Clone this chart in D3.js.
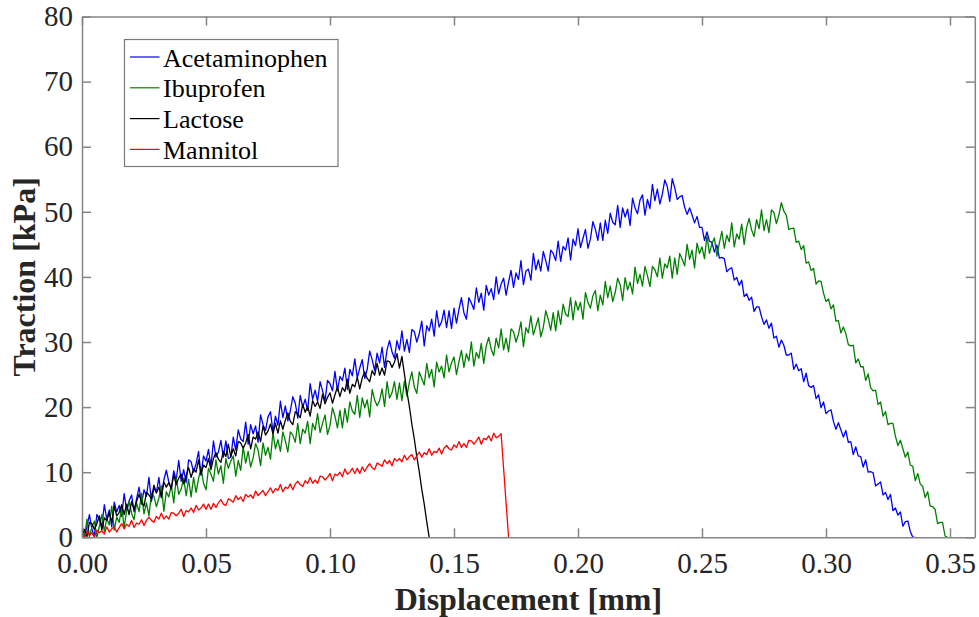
<!DOCTYPE html>
<html>
<head>
<meta charset="utf-8">
<script src="https://cdn.jsdelivr.net/npm/d3@7"></script>
<style>
body { margin: 0; background: #fff; }
svg { display: block; font-family: "Liberation Serif", serif; }
.axis path, .axis line { stroke: #858585; stroke-width: 1.5; }
.axis text { fill: #262626; font-size: 29px; font-family: "Liberation Serif", serif !important; }
.axis-label { fill: #262626; font-size: 32px; font-weight: bold; text-anchor: middle; }
.legend-text { fill: #000; font-size: 26px; }
</style>
</head>
<body>
<svg width="979" height="617"></svg>
<script>
var step = 0.001;

var seriesNames = ['Acetaminophen', 'Ibuprofen', 'Lactose', 'Mannitol'];
var seriesColors = ['#0000ff', '#008000', '#000000', '#ff0000'];

var acetaminophen = [
    1.9, 0.0, 1.7, 3.5, 1.2, 0.2, 3.5, 2.7, 1.7, 5.0,
    2.8, 4.2, 1.6, 5.4, 3.9, 4.9, 3.2, 6.7, 4.1, 5.6,
    6.5, 3.9, 5.9, 7.7, 5.1, 7.3, 6.3, 9.2, 5.5, 7.6,
    6.9, 9.2, 6.1, 8.8, 10.3, 8.5, 7.5, 10.2, 8.8, 11.8,
    8.6, 10.4, 8.4, 11.9, 11.6, 10.0, 11.3, 13.2, 9.5, 12.5,
    11.7, 13.5, 10.9, 14.8, 12.3, 13.1, 14.9, 12.3, 14.8, 12.1,
    12.3, 15.4, 13.4, 16.5, 15.1, 14.7, 17.7, 14.3, 17.3, 15.9,
    17.1, 14.6, 18.8, 17.3, 16.4, 18.5, 19.3, 16.2, 18.6, 17.2,
    20.9, 18.4, 20.2, 17.9, 19.4, 21.6, 20.6, 18.3, 21.8, 20.0,
    21.2, 19.5, 23.6, 21.2, 22.6, 20.9, 23.9, 22.5, 21.0, 24.1,
    23.6, 22.5, 25.5, 22.5, 24.7, 24.1, 26.0, 22.7, 25.8, 24.8,
    27.4, 24.5, 26.0, 27.3, 24.4, 25.8, 28.6, 27.3, 25.6, 28.3,
    26.8, 29.2, 26.1, 28.8, 30.2, 28.5, 27.5, 30.2, 28.8, 31.7,
    28.6, 30.4, 28.4, 31.9, 31.6, 30.0, 31.3, 33.2, 29.4, 32.5,
    31.7, 33.5, 30.9, 34.8, 32.3, 33.1, 34.9, 32.2, 34.8, 32.1,
    35.2, 32.9, 35.0, 36.8, 34.5, 33.5, 36.8, 36.0, 35.0, 38.3,
    36.1, 37.5, 34.9, 38.7, 37.2, 38.2, 36.5, 40.0, 37.4, 38.9,
    39.8, 37.2, 39.2, 41.0, 38.4, 40.6, 39.6, 42.5, 38.8, 40.9,
    41.2, 39.5, 43.6, 41.1, 42.6, 40.9, 43.9, 42.5, 40.9, 44.1,
    43.6, 42.5, 45.5, 42.4, 44.7, 44.1, 46.0, 42.6, 45.8, 44.8,
    47.4, 44.5, 45.9, 47.3, 44.4, 45.8, 48.5, 47.3, 45.6, 48.3,
    45.6, 48.7, 46.7, 49.8, 48.4, 48.0, 51.0, 47.6, 50.6, 49.2,
    50.4, 47.9, 52.1, 50.6, 49.7, 51.8, 52.6, 49.5, 51.9, 50.5,
    54.2, 51.7, 53.5, 51.2, 52.7, 54.9, 53.9, 51.6, 55.1,
    53.7, 51.9, 52.3, 52.5, 50.7, 49.6, 50.6, 49.5, 48.3, 49.3,
    47.6, 47.6, 45.6, 46.9, 45.5, 45.3, 43.8, 44.9, 42.9, 43.0,
    42.8, 40.8, 41.2, 41.4, 39.5, 39.9, 38.7, 39.5, 37.0, 37.4,
    36.4, 36.9, 34.7, 35.4, 35.4, 33.9, 32.7, 33.4, 32.1, 32.9,
    30.6, 30.9, 29.2, 30.3, 29.5, 28.0, 28.0, 28.3, 25.8, 26.6,
    25.6, 25.9, 23.9, 25.2, 23.3, 23.0, 23.3, 21.3, 21.9, 19.9,
    20.8, 19.0, 19.4, 19.6, 17.8, 16.6, 17.6, 16.5, 15.4, 16.4,
    14.6, 14.7, 12.7, 13.9, 12.5, 12.4, 10.8, 11.9, 10.0, 10.1,
    9.9, 7.9, 8.2, 8.5, 6.5, 6.9, 5.8, 6.6, 4.1, 4.5,
    3.4, 3.9, 1.7, 2.4, 2.5, 0.9, 0.0, 0.0
];

var ibuprofen = [
    1.1, 0.0, 2.8, 0.1, 1.6, 2.5, 0.0, 1.7, 3.5, 0.9,
    2.9, 1.9, 4.8, 1.1, 3.1, 2.3, 4.6, 1.5, 4.1, 5.5,
    3.7, 2.7, 5.3, 3.9, 6.8, 3.6, 5.3, 3.3, 6.8, 6.3,
    4.7, 6.0, 7.9, 4.0, 7.0, 6.2, 8.0, 5.3, 9.1, 6.6,
    7.4, 9.1, 6.4, 8.9, 6.2, 9.2, 6.9, 9.0, 10.7, 8.3,
    7.3, 10.6, 9.7, 8.6, 11.9, 9.7, 11.0, 8.3, 12.1, 10.6,
    11.7, 12.5, 9.4, 11.8, 10.3, 13.9, 11.4, 13.2, 10.8, 12.2,
    14.4, 13.4, 11.0, 14.5, 12.6, 13.8, 12.0, 16.1, 13.6, 15.0,
    13.2, 16.2, 14.8, 13.1, 16.2, 15.7, 14.6, 17.5, 14.4, 16.6,
    16.0, 17.8, 14.4, 17.5, 16.5, 19.0, 16.1, 17.5, 18.8, 15.8,
    17.2, 19.9, 18.6, 16.8, 19.5, 16.8, 19.8, 17.7, 20.8, 19.4,
    18.9, 21.8, 18.4, 21.4, 19.9, 21.1, 18.5, 22.7, 21.1, 20.2,
    21.0, 22.8, 20.1, 23.9, 21.4, 22.2, 23.9, 21.2, 23.7, 21.0,
    24.0, 21.7, 23.8, 25.4, 23.1, 22.1, 25.4, 24.4, 23.4, 26.7,
    24.5, 25.8, 23.1, 26.9, 25.4, 26.3, 24.5, 28.0, 25.4, 26.8,
    27.7, 25.0, 27.0, 28.7, 26.1, 28.2, 27.1, 30.0, 26.3, 28.4,
    27.5, 29.8, 26.7, 29.4, 30.7, 28.9, 27.9, 30.6, 29.1, 32.0,
    28.8, 30.6, 28.5, 32.0, 31.6, 30.0, 31.2, 33.1, 29.3, 32.2,
    31.4, 34.0, 31.1, 32.4, 33.7, 30.8, 32.2, 34.8, 33.5, 31.8,
    34.5, 31.7, 34.8, 32.7, 35.8, 34.3, 33.9, 36.8, 33.4, 36.3,
    34.9, 36.1, 33.5, 37.6, 36.1, 35.2, 37.1, 37.9, 34.8, 37.2,
    35.7, 39.3, 36.8, 38.6, 36.2, 37.6, 39.8, 38.8, 36.4, 39.9,
    38.0, 39.2, 37.4, 41.5, 39.0, 40.4, 38.6, 41.6, 40.2, 38.5,
    41.6, 41.1, 40.0, 42.9, 39.8, 42.0, 41.4, 43.2, 39.8, 42.9,
    40.4, 43.6, 42.7, 41.7, 45.0, 42.7, 44.1, 41.4, 45.2, 43.6,
    44.6, 42.8, 46.3, 43.6, 45.1, 46.0, 43.2, 45.2, 47.0, 44.4,
    46.4, 45.4, 48.3, 44.6, 46.6, 45.8, 48.1, 45.0, 47.6, 49.0,
    47.2, 46.2, 48.8, 47.4, 50.3, 47.1, 48.8, 46.8, 50.3, 49.9,
    48.2, 49.5, 51.4, 50.1,
    49.5, 47.3, 47.4, 47.5, 45.3, 45.5, 44.2, 44.8, 42.1, 42.3,
    41.0, 41.3, 38.9, 39.4, 39.3, 37.5, 36.2, 36.6, 35.1, 35.7,
    33.2, 33.3, 31.4, 32.3, 31.3, 29.6, 29.4, 29.5, 26.8, 27.4,
    26.2, 26.2, 24.1, 25.1, 23.0, 22.5, 22.6, 20.4, 20.8, 18.6,
    19.3, 17.3, 17.5, 17.5, 15.5, 14.1, 14.9, 13.6, 12.3, 13.1,
    11.1, 10.9, 8.7, 9.8, 8.2, 7.8, 6.1, 7.0, 4.8, 4.7,
    4.3, 2.1, 2.3, 2.3, 0.2, 0.0
];

var lactose = [
    0.0, 1.2, 0.1, 2.3, 2.1, 1.2, 2.1, 3.3, 1.1, 3.0,
    2.6, 3.8, 2.3, 4.7, 3.3, 3.8, 5.0, 3.5, 5.1, 3.5,
    5.5, 4.2, 5.5, 6.6, 5.4, 4.8, 6.9, 6.5, 5.9, 8.0,
    6.8, 7.7, 6.2, 8.5, 7.7, 8.4, 7.4, 9.6, 8.1, 9.1,
    9.7, 8.2, 9.5, 10.7, 9.2, 10.5, 10.0, 11.9, 9.7, 11.1,
    10.7, 12.1, 10.4, 12.1, 13.0, 12.0, 11.5, 13.2, 12.4, 14.3,
    12.4, 13.6, 12.5, 14.7, 14.5, 13.7, 14.5, 15.8, 13.6, 15.4,
    15.1, 16.2, 14.7, 17.1, 15.7, 16.3, 17.4, 15.9, 17.5, 16.0,
    17.9, 16.6, 18.0, 19.1, 17.8, 17.3, 19.3, 18.9, 18.4, 20.4,
    19.2, 20.1, 18.6, 21.0, 20.1, 20.8, 19.8, 22.0, 20.5, 21.5,
    22.2, 20.6, 21.9, 23.1, 21.6, 23.0, 22.4, 24.3, 22.1, 23.5,
    23.1, 24.6, 22.8, 24.5, 25.4, 24.4, 23.9, 25.6, 24.9, 26.7,
    24.9, 26.0, 24.9, 27.1, 27.0, 26.1, 26.9, 28.2, 26.0, 27.8,
    25.1, 22.4, 20.1, 17.4, 15.1, 12.4, 10.1, 7.4, 5.1, 2.4, 0.0
];

var mannitol = [
    0.1, 0.0, 0.9, 0.3, 0.7, 0.0, 1.1, 0.7, 1.0, 0.5,
    1.6, 0.8, 1.3, 1.6, 0.8, 1.5, 2.1, 1.3, 2.0, 1.7,
    2.6, 1.5, 2.2, 2.0, 2.7, 1.8, 2.6, 3.1, 2.6, 2.3,
    3.2, 2.8, 3.7, 2.8, 3.3, 2.8, 3.8, 3.7, 3.3, 3.7,
    4.3, 3.2, 4.1, 3.9, 4.5, 3.8, 4.9, 4.2, 4.5, 5.1,
    4.3, 5.1, 4.3, 5.2, 4.6, 5.3, 5.8, 5.1, 4.9, 5.9,
    5.7, 5.4, 6.4, 5.8, 6.2, 5.5, 6.6, 6.2, 6.5, 6.0,
    7.1, 6.4, 6.8, 7.2, 6.4, 7.0, 7.6, 6.8, 7.5, 7.2,
    8.1, 7.0, 7.7, 7.5, 8.2, 7.3, 8.2, 8.6, 8.1, 7.8,
    8.7, 8.3, 9.2, 8.3, 8.8, 8.3, 9.4, 9.3, 8.8, 9.2,
    9.8, 8.7, 9.7, 9.5, 10.0, 9.3, 10.5, 9.7, 10.0, 10.6,
    9.8, 10.6, 9.8, 10.8, 10.1, 10.8, 11.3, 10.7, 10.4, 11.4,
    11.2, 10.9, 11.9, 11.3, 11.8, 11.0, 12.1, 11.7, 12.1, 11.6,
    12.6, 11.9, 12.4, 12.7, 11.9, 12.5, 13.1, 12.3, 13.0, 12.7,
    13.6, 12.6, 13.2, 13.0, 13.7, 12.8, 13.7, 14.1, 13.6, 13.4,
    14.2, 13.8, 14.7, 13.8, 14.4, 13.8, 14.9, 14.8, 14.3, 14.8,
    15.4, 14.3, 15.2, 15.0, 15.6, 14.8, 16.0, 15.3, 15.5, 15.9,
    10.6, 5.3, 0.0
];

var xTicks = [0, 0.05, 0.10, 0.15, 0.20, 0.25, 0.30, 0.35];
var yTicks = [0, 10, 20, 30, 40, 50, 60, 70, 80];

var svg = d3.select('svg');

var plot = { l: 82, t: 16.5, r: 974.8, b: 537.3 };

var xScale = d3.scaleLinear().domain([0, 0.36]).range([plot.l, plot.r]);
var yScale = d3.scaleLinear().domain([0, 80]).range([plot.b, plot.t]);

svg.append('clipPath')
    .attr('id', 'plot-clip')
    .append('rect')
    .attr('x', plot.l)
    .attr('y', plot.t)
    .attr('width', plot.r - plot.l)
    .attr('height', plot.b - plot.t);

var allSeries = [acetaminophen, ibuprofen, lactose, mannitol];

var lineGen = d3.line()
    .x((d, i) => xScale(i * step))
    .y(d => yScale(d));

svg.append('g')
    .attr('clip-path', 'url(#plot-clip)')
    .selectAll('path')
    .data(allSeries)
    .enter()
    .append('path')
    .attr('fill', 'none')
    .attr('stroke', (d, i) => seriesColors[i])
    .attr('stroke-width', 1.3)
    .attr('stroke-linejoin', 'round')
    .attr('d', lineGen);

// axes, ticks pointing inward, MATLAB style box
var axes = [
    svg.append('g')
        .attr('transform', `translate(0, ${plot.b})`)
        .call(d3.axisBottom(xScale).tickValues(xTicks).tickFormat(d3.format('.2f'))
            .tickSizeInner(-9).tickSizeOuter(0).tickPadding(15)),
    svg.append('g')
        .attr('transform', `translate(0, ${plot.t})`)
        .call(d3.axisTop(xScale).tickValues(xTicks).tickFormat('')
            .tickSizeInner(-9).tickSizeOuter(0)),
    svg.append('g')
        .attr('transform', `translate(${plot.l}, 0)`)
        .call(d3.axisLeft(yScale).tickValues(yTicks).tickFormat(d3.format('d'))
            .tickSizeInner(-9).tickSizeOuter(0).tickPadding(9)),
    svg.append('g')
        .attr('transform', `translate(${plot.r}, 0)`)
        .call(d3.axisRight(yScale).tickValues(yTicks).tickFormat('')
            .tickSizeInner(-9).tickSizeOuter(0))
];

axes.forEach(g => {
    g.attr('class', 'axis').attr('font-family', null).attr('font-size', null);
});

svg.append('text')
    .attr('class', 'axis-label')
    .attr('x', (plot.l + plot.r) / 2)
    .attr('y', 610)
    .text('Displacement [mm]');

svg.append('text')
    .attr('class', 'axis-label')
    .attr('transform', `translate(35, ${(plot.t + plot.b) / 2}) rotate(-90)`)
    .text('Traction [kPa]');

// legend
var legend = svg.append('g').attr('transform', 'translate(124.5, 39.5)');

legend.append('rect')
    .attr('width', 213.5)
    .attr('height', 127)
    .attr('fill', '#fff')
    .attr('stroke', '#7a7a7a')
    .attr('stroke-width', 1.2);

var items = legend.selectAll('.legend-item')
    .data(seriesNames)
    .enter()
    .append('g')
    .attr('class', 'legend-item')
    .attr('transform', (d, i) => `translate(0, ${17.5 + i * 30.8})`);

items.append('line')
    .attr('x1', 5.5)
    .attr('x2', 35)
    .attr('stroke', (d, i) => seriesColors[i])
    .attr('stroke-width', 1.2);

items.append('text')
    .attr('class', 'legend-text')
    .attr('x', 38.5)
    .attr('y', 9.5)
    .text(d => d);
</script>
</body>
</html>
